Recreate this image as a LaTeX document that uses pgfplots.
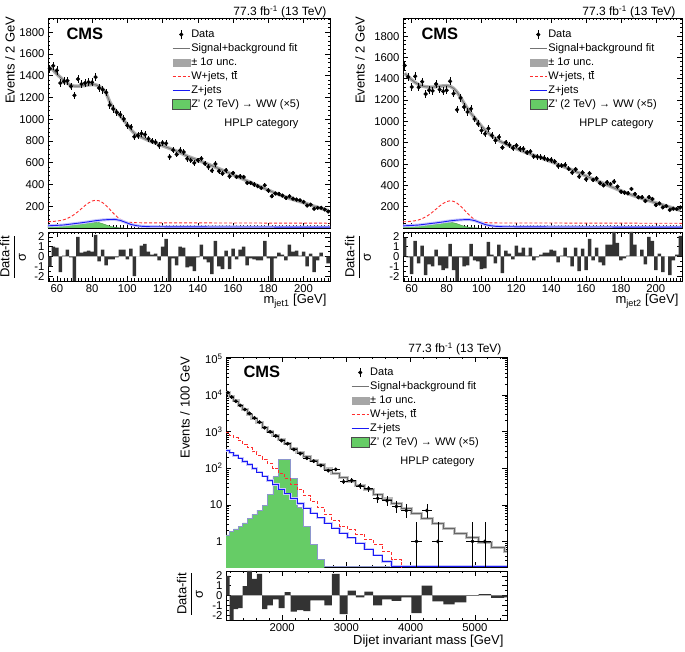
\documentclass[border=0pt]{standalone}
\usepackage{pgfplots}
\pgfplotsset{compat=1.18}
\usepackage{pgfplotstable}
\usepackage{fontspec}
\setmainfont{Liberation Sans}

\definecolor{sigfill}{RGB}{102,204,102}
\definecolor{sigedge}{RGB}{140,150,205}
\definecolor{wred}{RGB}{255,45,45}
\definecolor{zblue}{RGB}{25,25,245}

\newcommand{\fsz}[1]{\fontsize{#1}{#1}\selectfont}

% m_jet1: bin centre, data, error, fit, pull
\pgfplotstableread{
m n e fit pull
56 1463 38 1480 -1.0
58 1491 39 1450 1.0
60 1448 38 1415 0.9
62 1332 36 1385 -1.6
64 1347 37 1355 0.1
66 1353 37 1330 0.7
68 1301 36 1312 -0.1
70 1219 35 1304 -2.5
72 1369 37 1303 2.0
74 1323 36 1306 0.4
76 1332 36 1310 0.5
78 1341 37 1315 0.6
80 1338 37 1318 0.5
82 1387 37 1316 2.2
84 1286 36 1303 -0.5
86 1271 36 1280 0.7
88 1246 35 1240 -0.9
90 1130 34 1160 -0.3
92 1094 33 1105 -0.3
94 1063 33 1065 -0.1
96 1042 32 1030 0.7
98 1002 32 990 0.7
100 941 31 950 -0.3
102 929 30 905 0.8
104 838 29 870 -2.0
106 850 29 850 0.0
108 868 29 835 1.1
110 859 29 820 1.3
112 820 29 805 0.5
114 798 28 792 0.2
116 789 28 780 0.3
118 758 28 768 -0.4
120 783 28 756 1.0
122 777 28 744 1.8
124 654 26 732 -2.6
126 716 27 720 -0.2
128 676 26 706 -0.9
130 713 27 692 1.0
132 698 26 676 0.9
134 636 25 660 -1.1
136 622 25 648 -1.0
138 598 24 636 -1.5
140 622 25 624 -0.1
142 638 25 611 1.2
144 592 24 598 -0.3
146 561 24 585 -0.6
148 528 23 572 -1.8
150 589 24 558 1.6
152 522 23 545 -1.0
154 500 22 531 -1.3
156 531 23 517 0.6
158 475 22 503 -1.3
160 506 22 489 0.8
162 469 22 475 -0.3
164 475 22 461 0.7
166 469 22 447 1.0
168 414 20 432 -0.9
170 414 20 418 -0.2
172 399 20 404 -0.3
174 384 20 390 -0.4
176 368 19 376 -0.4
178 393 20 362 1.6
180 344 19 348 -0.2
182 292 17 334 -2.5
184 317 18 320 -0.2
186 314 18 307 0.4
188 298 17 295 0.2
190 277 17 283 -0.4
192 292 17 272 1.2
194 270 16 262 0.5
196 261 16 252 0.6
198 255 16 243 0.1
200 240 15 233 0.5
202 206 14 222 -1.0
204 215 15 211 0.3
206 176 13 200 -1.6
208 185 14 190 -0.4
210 185 14 180 0.4
212 170 13 170 0.0
214 151 12 160 -0.7
}\tlA

% m_jet2
\pgfplotstableread{
m n e fit pull
56 1524 39 1450 1.9
58 1417 38 1420 -0.1
60 1323 36 1390 -1.8
62 1423 38 1365 1.6
64 1320 36 1345 -0.7
66 1373 37 1332 1.1
68 1257 35 1325 -1.9
70 1292 36 1322 -0.8
72 1286 36 1322 -1.0
74 1351 37 1325 0.7
76 1298 36 1330 -0.9
78 1282 36 1333 -1.4
80 1292 36 1335 -1.2
82 1376 37 1330 1.3
84 1260 35 1310 -1.4
86 1110 33 1275 -2.6
88 1220 35 1225 -0.1
90 1135 34 1170 -1.0
92 1088 33 1120 -0.9
94 1119 33 1075 1.3
96 1022 32 1035 -0.4
98 978 31 995 -0.5
100 915 30 955 -1.3
102 884 30 920 -1.2
104 934 31 890 1.5
106 868 29 862 0.2
108 821 29 840 -0.7
110 853 29 820 1.2
112 755 27 802 -1.7
114 802 28 786 0.6
116 780 28 771 0.3
118 749 27 757 -0.3
120 774 28 744 1.1
122 743 27 731 0.4
124 743 27 718 0.9
126 708 27 706 0.1
128 718 27 694 0.9
130 671 26 682 -0.4
132 668 26 670 -0.1
134 664 26 658 0.2
136 655 26 646 0.4
138 643 25 634 0.4
140 639 25 622 0.7
142 623 25 609 0.6
144 582 24 596 -0.6
146 585 24 583 0.1
148 592 24 570 0.9
150 554 24 557 -0.1
152 520 23 544 -1.0
154 551 23 530 0.9
156 482 22 516 -1.5
158 520 23 502 0.8
160 457 21 488 -1.4
162 513 23 474 1.8
164 451 21 460 -0.4
166 466 22 446 0.9
168 419 20 432 -0.6
170 400 20 418 -0.9
172 428 21 404 1.2
174 413 20 390 1.2
176 435 21 376 2.5
178 388 20 362 1.4
180 341 18 349 -0.4
182 332 18 336 -0.2
184 325 18 323 0.1
186 366 19 311 2.5
188 319 18 299 1.2
190 288 17 288 0.0
192 288 17 277 0.7
194 253 16 266 -0.8
196 288 17 256 2.0
198 272 16 246 1.6
200 215 15 236 -1.4
202 231 15 226 0.3
204 193 14 216 -1.6
206 206 14 206 0.0
208 169 13 196 -1.9
210 181 13 186 -0.4
212 178 13 176 0.2
214 193 14 166 2.1
}\trA

% dijet mass: data points
\pgfplotstableread{
c xe n ep em
1153.5 27.5 11700 108 108
1213.5 32.5 8900 94 94
1279.5 33.5 6800 82 82
1348 35 5200 72 72
1419 36 4050 64 64
1492.5 37.5 3170 56 56
1568.5 38.5 2380 49 49
1647 40 1830 43 43
1728.5 41.5 1280 36 36
1813 43 990 31 31
1900.5 44.5 770 28 28
1991 46 570 24 24
2084.5 47.5 470 22 22
2181.5 49.5 325 18 18
2281.5 50.5 250 16 16
2385 53 188 14 14
2492 54 156 12.5 12.5
2602.5 56.5 119 11 11
2717 58 86 9.3 9.3
2835 60 93 9.6 9.6
2957 62 43 6.6 6.6
3083 64 47 6.9 6.9
3213 66 33 5.7 5.7
3347.5 68.5 28 5.3 5.3
3487 71 15 4.9 3.8
3631 73 13 4.6 3.6
3779 75 9 4.1 2.9
3932 78 7 3.8 2.6
4090.5 80.5 1 2.3 0.83
4254 83 7 3.8 2.6
4423 86 1 2.3 0.83
4963.5 94.5 1 2.3 0.83
5155.5 97.5 1 2.3 0.83
}\bA

% dijet mass: bin low edge, fit, Z+jets, signal outline, pull
\pgfplotstableread{
lo fit z s pull
1126 11480 310 1.5 2.0
1181 9135 265 1.9 -2.5
1246 6915 225 2.2 -1.4
1313 5294 190 2.6 -1.3
1383 3990 155 3.2 0.95
1455 3030 125 4.2 2.5
1530 2300 100 5.5 1.7
1607 1740 78 7.2 2.2
1687 1330 61 9.6 -1.4
1770 1020 47 19 -1.0
1856 780 36 59 -0.4
1945 600 27 178 -1.3
2037 462 20 178 0.35
2132 356 15 52 -1.65
2231 274 11 8.3 -1.5
2332 211 8.2 2.6 -1.6
2438 162 6.0 0.85 -0.5
2546 125 4.4 0.32 -0.5
2659 96 3.2 0.21 -1.0
2775 74 2.3 0.21 2.2
2895 57 1.7 0.21 -1.9
3019 44 1.25 0.21 0.5
3147 34 0.9 0.21 -0.2
3279 26 0.62 0.21 0.4
3416 19.5 0.42 0.21 -1.0
3558 14.5 0.28 0.21 -0.4
3704 10.8 0.21 0.21 -0.55
3854 8.0 0.21 0.21 -0.2
4010 5.9 0.21 0.21 -1.8
4171 4.3 0.21 0.21 1.0
4337 3.1 0.21 0.21 -0.6
4509 2.3 0.21 0.21 -0.9
4686 1.7 0.21 0.21 -0.7
4869 1.25 0.21 0.21 -0.05
5058 0.92 0.21 0.21 0.15
5253 0.68 0.21 0.21 -0.25
5455 0.52 0.21 0.21 -0.2
5500 0.52 0.21 0.21 -0.2
}\bB

\pgfplotsset{
  cms/.style={
    scale only axis,
    axis line style={line width=0.7pt},
    every tick/.style={black, line width=0.6pt},
    major tick length=5pt,
    minor tick length=2.5pt,
    tick label style={font=\fsz{11.3}},
    /pgf/number format/assume math mode=true,
    /pgf/number format/1000 sep={},
  },
  cmslegend/.style={
    legend cell align=left,
    legend style={at={#1}, anchor=north west, draw=none, fill=none,
      font=\fsz{11}, row sep=1.5pt, inner sep=0pt,
      nodes={inner sep=1pt, text height=8pt, text depth=2.5pt}},
  },
  datastyle/.style={only marks, mark=*, mark size=1.9pt, black, forget plot,
    error bars/.cd, y dir=both, y explicit, error mark=none,
    error bar style={line width=0.6pt, black}},
}

\newcommand{\legendentries}{%
  \addlegendimage{legend image code/.code={\draw[black,line width=0.6pt] (0.3cm,-0.17cm)--(0.3cm,0.17cm); \fill[black] (0.3cm,0cm) circle (1.9pt);}}
  \addlegendentry{Data}
  \addlegendimage{black!55, line width=0.9pt}
  \addlegendentry{Signal+background fit}
  \addlegendimage{legend image code/.code={\fill[black!35] (0cm,-0.12cm) rectangle (0.6cm,0.12cm);}}
  \addlegendentry{± 1σ unc.}
  \addlegendimage{wred, line width=0.9pt, dash pattern=on 3pt off 2pt}
  \addlegendentry{W+jets, t$\overline{\mbox{t}}$}
  \addlegendimage{zblue, line width=0.9pt}
  \addlegendentry{Z+jets}
  \addlegendimage{legend image code/.code={\filldraw[fill=sigfill, draw=black!70, line width=0.5pt] (0cm,-0.17cm) rectangle (0.6cm,0.17cm);}}
  \addlegendentry{Z' (2 TeV) → WW (×5)}
}

% W+jets, Z+jets and signal shapes in the jet-mass panels
\newcommand{\jetmasscomponents}{%
  \addplot[fill=sigfill, draw=sigfill!70!black, line width=0.4pt, forget plot] coordinates {
    (55,14) (60,17) (64,20) (68,25) (72,31) (76,40) (78,46) (80,50) (82,52) (84,49)
    (86,40) (88,28) (90,17) (92,9) (94,4) (96,1.5) (98,0)} \closedcycle;
  \addplot[wred, line width=0.9pt, dash pattern=on 3pt off 2pt, forget plot] coordinates {
    (55,58) (58,60) (62,68) (64,76) (66,88) (68,104) (70,125) (72,150) (74,178) (76,206)
    (78,230) (80,248) (82,255) (84,250) (86,233) (88,206) (90,172) (92,137) (94,105)
    (96,80) (98,63) (100,54) (104,49) (110,47) (130,47) (160,46) (190,45) (215,44)};
  \addplot[zblue!25, line width=3pt, forget plot] coordinates {
    (55,20) (60,24) (64,28) (70,40) (74,48) (78,57) (82,67) (86,74) (90,78) (93,79)
    (96,70) (99,52) (102,33) (105,22) (108,16) (112,12) (130,10) (170,9) (215,8)};
  \addplot[zblue, line width=0.9pt, forget plot] coordinates {
    (55,20) (60,24) (64,28) (70,40) (74,48) (78,57) (82,67) (86,74) (90,78) (93,79)
    (96,70) (99,52) (102,33) (105,22) (108,16) (112,12) (130,10) (170,9) (215,8)};
}

\begin{document}
\begin{tikzpicture}
\path[use as bounding box] (0pt,0pt) rectangle (685pt,651pt);

% ---------------- top left: m_jet1 ----------------
\begin{axis}[cms, at={(48pt,423pt)}, anchor=south west, width=282pt, height=210pt,
  xmin=55, xmax=215, ymin=0, ymax=1930,
  xtick={60,80,...,200}, xticklabels={}, minor xtick={56,58,...,214},
  ytick={200,400,...,1800}, minor ytick={40,80,...,1920},
  cmslegend={(0.44,0.952)}]
  \legendentries
  \jetmasscomponents
  \addplot[black!30, line width=3.5pt, forget plot] table[x=m, y=fit] {\tlA};
  \addplot[black!55, line width=0.9pt, forget plot] table[x=m, y=fit] {\tlA};
  \addplot[datastyle] table[x=m, y=n, y error=e] {\tlA};
\end{axis}
\begin{axis}[cms, at={(48pt,370pt)}, anchor=south west, width=282pt, height=49pt,
  xmin=55, xmax=215, ymin=-2.5, ymax=2.5,
  xtick={60,80,...,200}, minor xtick={56,58,...,214},
  ytick={-2,-1,0,1,2}, minor ytick={-2.5,-1.5,...,2.5}]
  \addplot[ybar, bar width=2, bar shift=0pt, fill=black!80, draw=none] table[x=m, y=pull] {\tlA};
\end{axis}
\node[anchor=base east, font=\fsz{12}] at (330pt,635.5pt) {77.3 fb\textsuperscript{-1} (13 TeV)};
\node[anchor=base west, font=\fsz{16.5}\bfseries] at (63pt,611pt) {CMS};
\node[anchor=base east, font=\fsz{11}] at (302pt,524pt) {HPLP category};
\node[rotate=90, anchor=east, font=\fsz{13}] at (10pt,638pt) {Events / 2 GeV};
\node[rotate=90, font=\fsz{13}] at (13pt,394pt) {$\displaystyle\frac{\mbox{Data-fit}}{\mbox{σ}}$};
\node[anchor=base east, font=\fsz{13}] at (330pt,347pt) {m\textsubscript{jet1} [GeV]};

% ---------------- top right: m_jet2 ----------------
\begin{axis}[cms, at={(403pt,423pt)}, anchor=south west, width=279pt, height=210pt,
  xmin=55, xmax=215, ymin=0, ymax=1970,
  xtick={60,80,...,200}, xticklabels={}, minor xtick={56,58,...,214},
  ytick={200,400,...,1800}, minor ytick={40,80,...,1960},
  cmslegend={(0.452,0.952)}]
  \legendentries
  \jetmasscomponents
  \addplot[black!30, line width=3.5pt, forget plot] table[x=m, y=fit] {\trA};
  \addplot[black!55, line width=0.9pt, forget plot] table[x=m, y=fit] {\trA};
  \addplot[datastyle] table[x=m, y=n, y error=e] {\trA};
\end{axis}
\begin{axis}[cms, at={(403pt,370pt)}, anchor=south west, width=279pt, height=49pt,
  xmin=55, xmax=215, ymin=-2.5, ymax=2.5,
  xtick={60,80,...,200}, minor xtick={56,58,...,214},
  ytick={-2,-1,0,1,2}, minor ytick={-2.5,-1.5,...,2.5}]
  \addplot[ybar, bar width=2, bar shift=0pt, fill=black!80, draw=none] table[x=m, y=pull] {\trA};
\end{axis}
\node[anchor=base east, font=\fsz{12}] at (679pt,635.5pt) {77.3 fb\textsuperscript{-1} (13 TeV)};
\node[anchor=base west, font=\fsz{16.5}\bfseries] at (418pt,611pt) {CMS};
\node[anchor=base east, font=\fsz{11}] at (657pt,524pt) {HPLP category};
\node[rotate=90, anchor=east, font=\fsz{13}] at (360pt,638pt) {Events / 2 GeV};
\node[rotate=90, font=\fsz{13}] at (358pt,394pt) {$\displaystyle\frac{\mbox{Data-fit}}{\mbox{σ}}$};
\node[anchor=base east, font=\fsz{13}] at (682pt,347pt) {m\textsubscript{jet2} [GeV]};

% ---------------- bottom: dijet invariant mass ----------------
\begin{axis}[cms, at={(226pt,84pt)}, anchor=south west, width=281pt, height=210pt,
  xmin=1126, xmax=5500, ymode=log, ymin=0.2, ymax=1.1e5,
  xtick={2000,3000,4000,5000}, xticklabels={}, minor xtick={1200,1400,...,5400},
  ytick={1,10,100,1000,10000,100000},
  yticklabels={1,10,10\textsuperscript{2},10\textsuperscript{3},10\textsuperscript{4},10\textsuperscript{5}},
  minor ytick={0.2,0.3,0.4,0.5,0.6,0.7,0.8,0.9,2,3,4,5,6,7,8,9,20,30,40,50,60,70,80,90,
    200,300,400,500,600,700,800,900,2000,3000,4000,5000,6000,7000,8000,9000,
    20000,30000,40000,50000,60000,70000,80000,90000},
  cmslegend={(0.445,0.957)}]
  \legendentries
  \addplot[const plot, fill=sigfill, draw=none, forget plot] coordinates {
    (1126,0.01) (1126,1.5) (1181,1.9) (1246,2.2) (1313,2.6) (1383,3.2) (1455,4.2)
    (1530,5.5) (1607,7.2) (1687,9.6) (1770,19) (1856,59) (1945,178) (2037,178)
    (2132,52) (2231,8.3) (2332,2.6) (2438,0.85) (2546,0.32) (2659,0.01)};
  \addplot[const plot, sigedge, line width=0.8pt, forget plot] table[x=lo, y=s] {\bB};
  \addplot[const plot, wred, line width=0.9pt, dash pattern=on 3pt off 2pt, forget plot] coordinates {
    (1126,950) (1181,800) (1246,680) (1313,565) (1383,455) (1455,365) (1530,285)
    (1607,225) (1687,178) (1770,135) (1856,100) (1945,73) (2037,52) (2132,37)
    (2231,26) (2332,18) (2438,12.5) (2546,8.3) (2659,5.5) (2775,3.8) (2895,2.6)
    (3019,2.1) (3147,1.6) (3279,1.15) (3416,0.85) (3558,0.52) (3704,0.32) (3854,0.05)};
  \addplot[const plot, zblue!25, line width=2.5pt, forget plot] table[x=lo, y=z] {\bB};
  \addplot[const plot, zblue, line width=0.9pt, forget plot] table[x=lo, y=z] {\bB};
  \addplot[const plot, black!25, line width=3pt, forget plot] table[x=lo, y=fit] {\bB};
  \addplot[const plot, black!60, line width=0.8pt, forget plot] table[x=lo, y=fit] {\bB};
  \addplot[only marks, mark=*, mark size=1.7pt, black, forget plot,
    error bars/.cd, x dir=both, x explicit, y dir=both, y explicit, error mark=none,
    error bar style={line width=0.6pt, black}]
    table[x=c, y=n, x error=xe, y error plus=ep, y error minus=em] {\bA};
\end{axis}
\begin{axis}[cms, at={(226pt,31pt)}, anchor=south west, width=281pt, height=49pt,
  xmin=1126, xmax=5500, ymin=-2.5, ymax=2.5,
  xtick={2000,3000,4000,5000}, minor xtick={1200,1400,...,5400},
  ytick={-2,-1,0,1,2}, minor ytick={-2.5,-1.5,...,2.5}]
  \addplot[ybar interval, fill=black!80, draw=none] table[x=lo, y=pull] {\bB};
\end{axis}
\node[anchor=base east, font=\fsz{12}] at (505pt,298.3pt) {77.3 fb\textsuperscript{-1} (13 TeV)};
\node[anchor=base west, font=\fsz{16.5}\bfseries] at (240pt,273pt) {CMS};
\node[anchor=base east, font=\fsz{11}] at (478pt,186pt) {HPLP category};
\node[rotate=90, anchor=east, font=\fsz{13}] at (185pt,298pt) {Events / 100 GeV};
\node[rotate=90, font=\fsz{13}] at (190pt,57pt) {$\displaystyle\frac{\mbox{Data-fit}}{\mbox{σ}}$};
\node[anchor=base east, font=\fsz{13}] at (507pt,7pt) {Dijet invariant mass [GeV]};
\end{tikzpicture}
\end{document}
